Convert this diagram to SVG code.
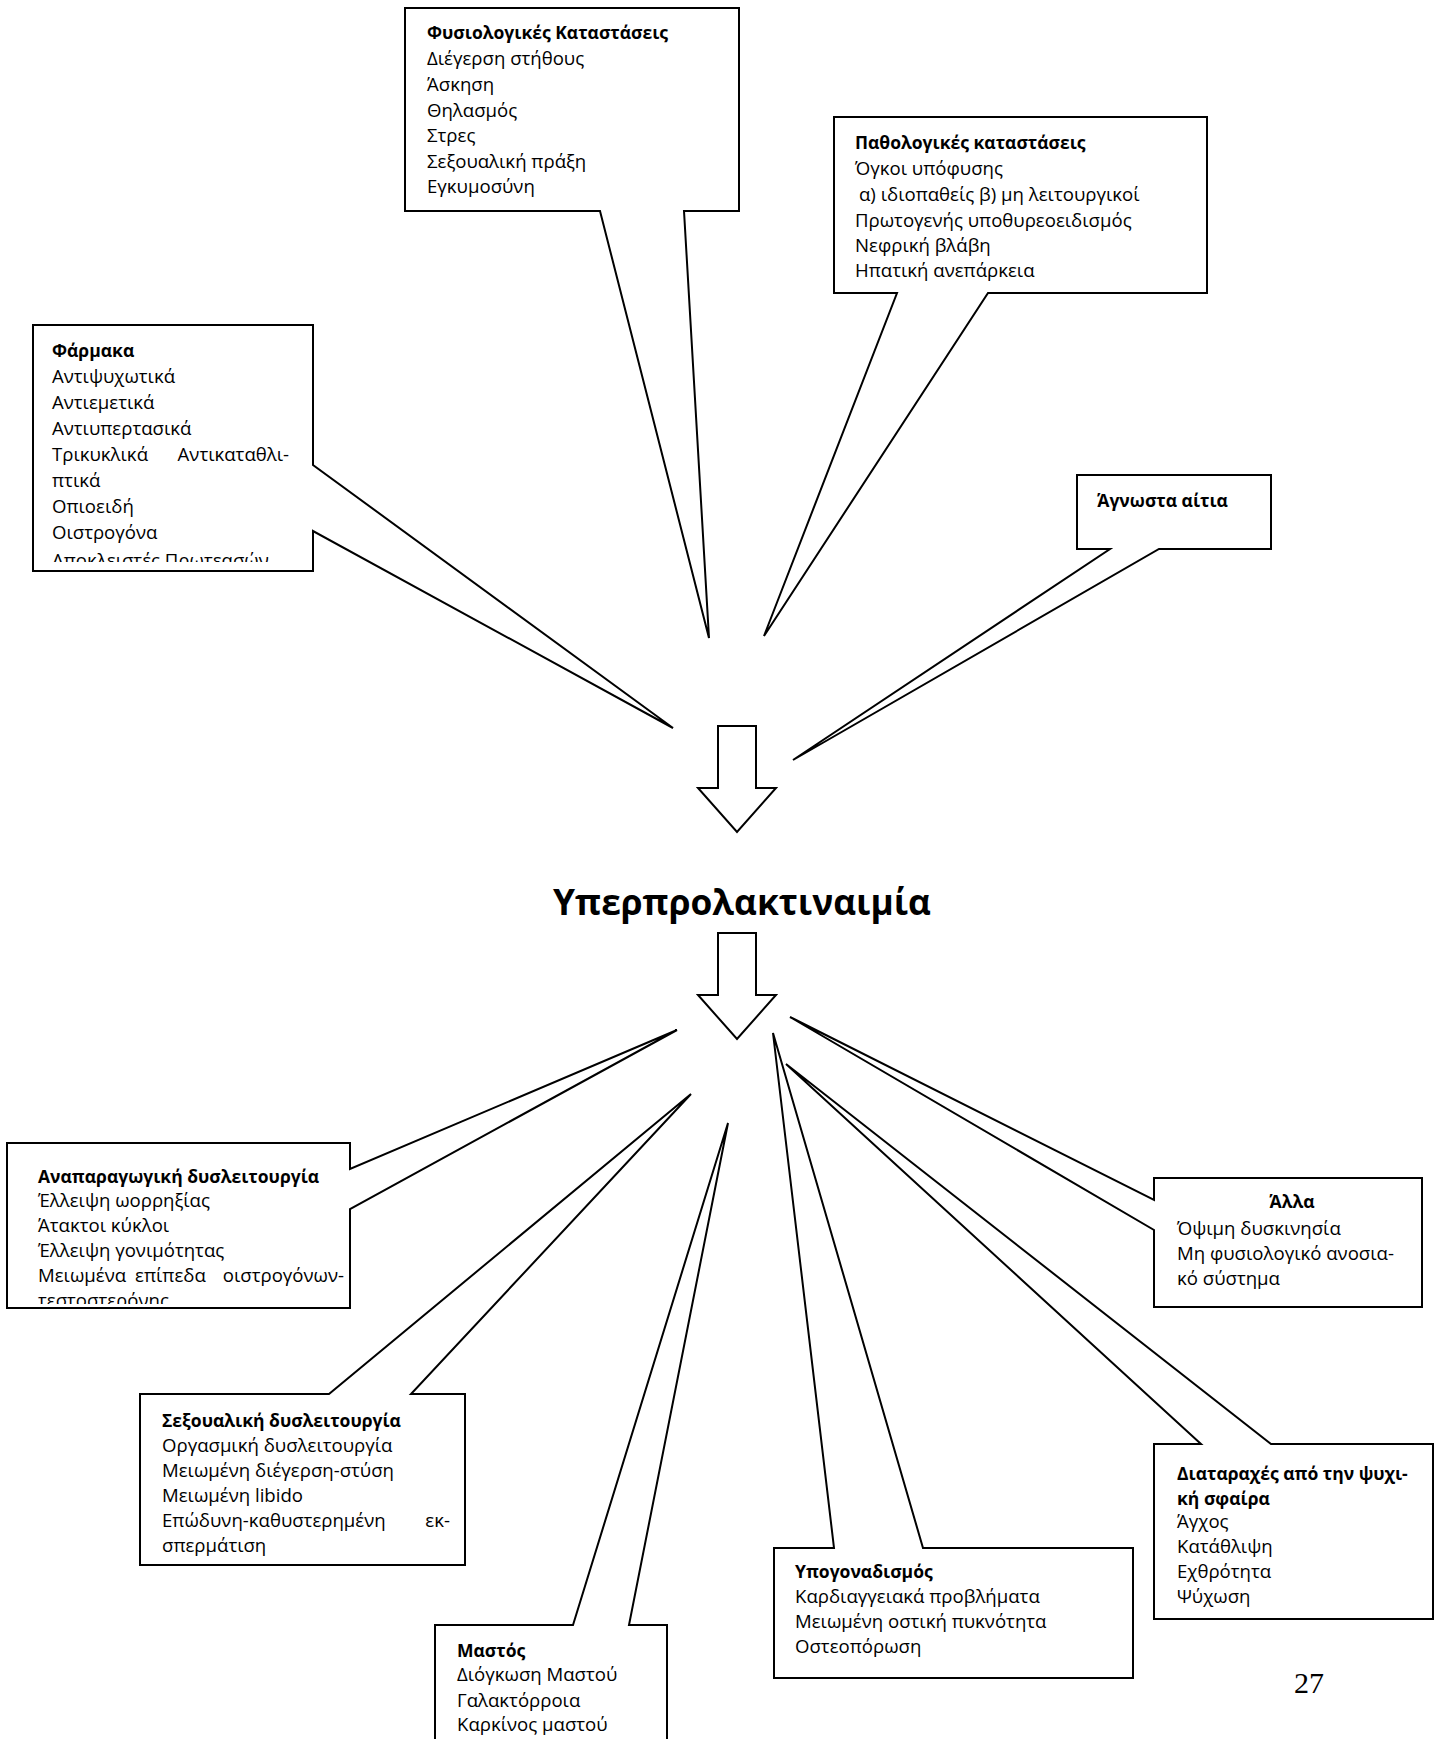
<svg xmlns="http://www.w3.org/2000/svg" width="1437" height="1739" viewBox="0 0 1437 1739">
<style>
.box{fill:#fff;stroke:#000;stroke-width:2;stroke-linejoin:miter}
.arr{fill:#fff;stroke:#000;stroke-width:2}
text{font-family:"Open Sans","Noto Sans",sans-serif;font-size:18.6px;fill:#000}
.b{font-weight:bold;font-size:17.5px}
.title{font-size:35.3px;font-weight:bold;text-anchor:middle}
.pg{font-family:"Liberation Serif","Times New Roman",serif;font-size:30px}
</style>
<defs>
<clipPath id="cF"><rect x="33" y="325" width="280" height="237"/></clipPath>
<clipPath id="cA"><rect x="7" y="1143" width="343" height="161"/></clipPath>
<clipPath id="cS"><rect x="140" y="1394" width="325" height="162"/></clipPath>
</defs>
<rect width="1437" height="1739" fill="#fff"/>

<g id="fysiologikes">
<path class="box" d="M405,8 H739 V211 H684 L709,638 L600,211 H405 Z"/>
<text x="427" y="39" class="b">Φυσιολογικές Καταστάσεις</text>
<text x="427" y="65">Διέγερση στήθους</text>
<text x="427" y="91">Άσκηση</text>
<text x="427" y="117">Θηλασμός</text>
<text x="427" y="142">Στρες</text>
<text x="427" y="168">Σεξουαλική πράξη</text>
<text x="427" y="193">Εγκυμοσύνη</text>
</g>

<g id="pathologikes">
<path class="box" d="M834,117 H1207 V293 H988 L764,636 L897,293 H834 Z"/>
<text x="855" y="149" class="b">Παθολογικές καταστάσεις</text>
<text x="855" y="175">Όγκοι υπόφυσης</text>
<text x="859" y="201">α) ιδιοπαθείς β) μη λειτουργικοί</text>
<text x="855" y="227">Πρωτογενής υποθυρεοειδισμός</text>
<text x="855" y="252">Νεφρική βλάβη</text>
<text x="855" y="277">Ηπατική ανεπάρκεια</text>
</g>

<g id="farmaka">
<path class="box" d="M33,325 H313 V465 L673,728 L313,531 V571 H33 Z"/>
<g clip-path="url(#cF)">
<text x="52" y="357" class="b">Φάρμακα</text>
<text x="52" y="383">Αντιψυχωτικά</text>
<text x="52" y="409">Αντιεμετικά</text>
<text x="52" y="435">Αντιυπερτασικά</text>
<text y="461"><tspan x="52">Τρικυκλικά</tspan><tspan x="289" text-anchor="end">Αντικαταθλι-</tspan></text>
<text x="52" y="487">πτικά</text>
<text x="52" y="513">Οπιοειδή</text>
<text x="52" y="539">Οιστρογόνα</text>
<text x="52" y="567">Αποκλειστές Πρωτεασών</text>
</g>
</g>

<g id="agnosta">
<path class="box" d="M1077,475 H1271 V549 H1159 L793,760 L1110,549 H1077 Z"/>
<text x="1097" y="507" class="b">Άγνωστα αίτια</text>
</g>

<g id="yperprolaktinaimia">
<text x="742" y="915" class="title">Υπερπρολακτιναιμία</text>
</g>

<g id="connectors">
<path class="arr" d="M718,726 H756 V788 H776 L737,832 L698,788 H718 Z"/>
<path class="arr" d="M718,933 H756 V995 H776 L737,1039 L698,995 H718 Z"/>
</g>

<g id="anaparagogiki">
<path class="box" d="M7,1143 H350 V1169 L677,1030 L350,1209 V1308 H7 Z"/>
<g clip-path="url(#cA)">
<text x="38" y="1183" class="b">Αναπαραγωγική δυσλειτουργία</text>
<text x="38" y="1207">Έλλειψη ωορρηξίας</text>
<text x="38" y="1232">Άτακτοι κύκλοι</text>
<text x="38" y="1257">Έλλειψη γονιμότητας</text>
<text y="1282"><tspan x="38">Μειωμένα</tspan><tspan x="135">επίπεδα</tspan><tspan x="344" text-anchor="end">οιστρογόνων-</tspan></text>
<text x="38" y="1307">τεστοστερόνης</text>
</g>
</g>

<g id="alla">
<path class="box" d="M1154,1178 H1422 V1307 H1154 V1230 L790,1017 L1154,1200 Z"/>
<text x="1292" y="1208" class="b" text-anchor="middle">Άλλα</text>
<text x="1177" y="1235">Όψιμη δυσκινησία</text>
<text x="1177" y="1260">Μη φυσιολογικό ανοσια-</text>
<text x="1177" y="1285">κό σύστημα</text>
</g>

<g id="sexoualiki">
<path class="box" d="M140,1394 H329 L691,1094 L411,1394 H465 V1565 H140 Z"/>
<g clip-path="url(#cS)">
<text x="162" y="1427" class="b">Σεξουαλική δυσλειτουργία</text>
<text x="162" y="1452">Οργασμική δυσλειτουργία</text>
<text x="162" y="1477">Μειωμένη διέγερση-στύση</text>
<text x="162" y="1502">Μειωμένη libido</text>
<text y="1527"><tspan x="162">Επώδυνη-καθυστερημένη</tspan><tspan x="450" text-anchor="end">εκ-</tspan></text>
<text x="162" y="1552">σπερμάτιση</text>
</g>
</g>

<g id="diataraxes">
<path class="box" d="M1154,1444 H1201 L786,1064 L1271,1444 H1433 V1619 H1154 Z"/>
<text x="1177" y="1480" class="b">Διαταραχές από την ψυχι-</text>
<text x="1177" y="1505" class="b">κή σφαίρα</text>
<text x="1177" y="1528">Άγχος</text>
<text x="1177" y="1553">Κατάθλιψη</text>
<text x="1177" y="1578">Εχθρότητα</text>
<text x="1177" y="1603">Ψύχωση</text>
</g>

<g id="mastos">
<path class="box" d="M435,1745 V1625 H573 L728,1123 L629,1625 H667 V1745"/>
<text x="457" y="1657" class="b">Μαστός</text>
<text x="457" y="1681">Διόγκωση Μαστού</text>
<text x="457" y="1707">Γαλακτόρροια</text>
<text x="457" y="1731">Καρκίνος μαστού</text>
</g>

<g id="ypogonadismos">
<path class="box" d="M774,1548 H834 L773,1033 L923,1548 H1133 V1678 H774 Z"/>
<text x="795" y="1578" class="b">Υπογοναδισμός</text>
<text x="795" y="1603">Καρδιαγγειακά προβλήματα</text>
<text x="795" y="1628">Μειωμένη οστική πυκνότητα</text>
<text x="795" y="1653">Οστεοπόρωση</text>
</g>

<text x="1294" y="1693" class="pg">27</text>
</svg>
